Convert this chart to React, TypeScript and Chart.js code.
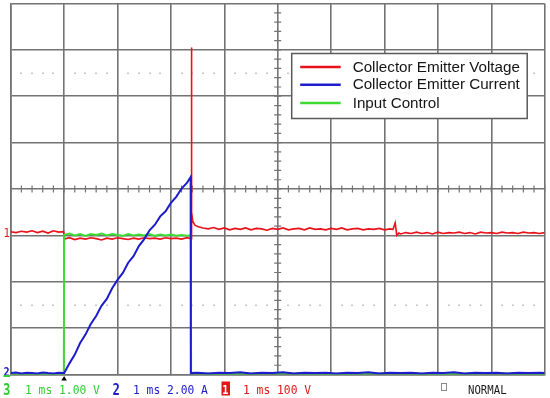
import React, { useEffect, useRef } from "react";
import { Chart, registerables } from "chart.js";

Chart.register(...registerables);

// ---- data (x: time in divisions of 1 ms, y: screen divisions) ----
const seriesLabels = ["Collector Emitter Voltage", "Collector Emitter Current", "Input Control"];
const seriesColors = ["#e8121a", "#1c1ccc", "#3ddc33"];

const voltageTrace: [number, number][] = [
  [0, 3.08], [0.1, 3.06], [0.2, 3.09], [0.3, 3.07], [0.4, 3.1], [0.5, 3.06], [0.6, 3.09], [0.7, 3.05], [0.8, 3.1], [0.9, 3.07], [0.99, 3.08],
  [1.01, 2.92], [1.1, 2.95], [1.2, 2.91], [1.3, 2.94], [1.4, 2.92], [1.5, 2.95], [1.6, 2.93], [1.7, 2.9], [1.8, 2.94], [1.9, 2.92],
  [2.0, 2.95], [2.1, 2.93], [2.2, 2.91], [2.3, 2.94], [2.4, 2.92], [2.5, 2.95], [2.6, 2.93], [2.7, 2.94], [2.8, 2.92], [2.9, 2.95],
  [3.0, 2.93], [3.1, 2.94], [3.2, 2.92], [3.3, 2.95], [3.38, 2.93],
  [3.385, 7.05], [3.39, 3.5], [3.41, 3.3], [3.45, 3.22], [3.5, 3.19], [3.6, 3.16],
  [3.7, 3.14], [3.8, 3.17], [3.9, 3.13], [4.0, 3.16], [4.1, 3.12], [4.2, 3.15], [4.3, 3.13], [4.4, 3.16], [4.5, 3.12], [4.6, 3.15],
  [4.7, 3.14], [4.8, 3.11], [4.9, 3.15], [5.0, 3.13], [5.1, 3.16], [5.2, 3.12], [5.3, 3.14], [5.4, 3.15], [5.5, 3.12], [5.6, 3.16],
  [5.7, 3.13], [5.8, 3.14], [5.9, 3.12], [6.0, 3.15], [6.1, 3.13], [6.2, 3.16], [6.3, 3.12], [6.4, 3.14], [6.5, 3.15], [6.6, 3.12],
  [6.7, 3.14], [6.8, 3.13], [6.9, 3.15], [7.0, 3.12], [7.1, 3.14], [7.16, 3.13],
  [7.2, 3.27], [7.23, 3.0], [7.27, 3.05], [7.3, 3.03],
  [7.4, 3.06], [7.5, 3.04], [7.6, 3.07], [7.7, 3.04], [7.8, 3.06], [7.9, 3.03], [8.0, 3.07], [8.1, 3.04], [8.2, 3.06], [8.3, 3.05],
  [8.4, 3.07], [8.5, 3.04], [8.6, 3.06], [8.7, 3.03], [8.8, 3.07], [8.9, 3.05], [9.0, 3.06], [9.1, 3.04], [9.2, 3.07], [9.3, 3.05],
  [9.4, 3.06], [9.5, 3.04], [9.6, 3.07], [9.7, 3.05], [9.8, 3.06], [9.9, 3.04], [10, 3.06],
];

const currentTrace: [number, number][] = [
  [0, 0.03], [0.1, 0.045], [0.2, 0.02], [0.3, 0.04], [0.4, 0.03], [0.5, 0.02], [0.6, 0.045], [0.7, 0.03], [0.8, 0.02], [0.9, 0.04], [1.0, 0.03],
  [1.1, 0.24], [1.2, 0.43], [1.3, 0.68], [1.4, 0.86], [1.5, 1.09], [1.6, 1.26], [1.7, 1.48], [1.8, 1.63], [1.9, 1.86],
  [2.0, 2.04], [2.1, 2.19], [2.2, 2.41], [2.3, 2.55], [2.4, 2.77], [2.5, 2.92], [2.6, 3.11], [2.7, 3.23], [2.8, 3.41], [2.9, 3.52],
  [3.0, 3.7], [3.1, 3.83], [3.2, 4.01], [3.3, 4.13], [3.37, 4.26],
  [3.373, 0.03], [3.5, 0.04], [3.7, 0.02], [3.9, 0.04], [4.1, 0.03], [4.3, 0.05], [4.5, 0.02], [4.7, 0.04], [4.9, 0.03],
  [5.1, 0.05], [5.3, 0.02], [5.5, 0.04], [5.7, 0.03], [5.9, 0.04], [6.1, 0.02], [6.3, 0.04], [6.5, 0.03], [6.7, 0.05], [6.9, 0.02],
  [7.1, 0.04], [7.3, 0.03], [7.5, 0.04], [7.7, 0.02], [7.9, 0.04], [8.1, 0.03], [8.3, 0.05], [8.5, 0.02], [8.7, 0.04], [8.9, 0.03],
  [9.1, 0.04], [9.3, 0.02], [9.5, 0.04], [9.7, 0.03], [9.9, 0.04], [10, 0.03],
];

const inputTrace: [number, number][] = [
  [0, 0.01], [0.3, 0.0], [0.6, 0.01], [0.995, 0.01],
  [1.0, 3.01], [1.1, 3.04], [1.2, 3.0], [1.3, 3.03], [1.4, 2.99], [1.5, 3.03], [1.6, 3.01], [1.7, 3.04], [1.8, 3.0], [1.9, 3.03],
  [2.0, 3.01], [2.1, 2.99], [2.2, 3.03], [2.3, 3.0], [2.4, 3.02], [2.5, 3.0], [2.6, 3.03], [2.7, 2.99], [2.8, 3.02], [2.9, 3.0],
  [3.0, 3.02], [3.1, 2.99], [3.2, 3.01], [3.3, 2.99], [3.375, 3.0],
  [3.378, 0.02], [4, 0.01], [5, 0.02], [6, 0.01], [7, 0.02], [8, 0.01], [9, 0.02], [10, 0.01],
];

const xDivisions = 10;
const yDivisions = 8;
const dottedLevels = [1.5, 6.5];
const triggerTime = 1.0;

const channel3Label = ["3", "1 ms 1.00 V"];
const channel2Label = ["2", "1 ms 2.00 A"];
const channel1Label = ["1", "1 ms 100 V"];
const modeLabel = "NORMAL";

const GRID = "#737373";

function monoText(ctx: CanvasRenderingContext2D, s: string, x: number, y: number, color: string, font: string, sx: number) {
  ctx.save();
  ctx.translate(x, y);
  ctx.scale(sx, 1);
  ctx.font = font;
  ctx.fillStyle = color;
  ctx.textBaseline = "alphabetic";
  ctx.textAlign = "left";
  ctx.fillText(s, 0, 0);
  ctx.restore();
}

const scopeDecor = {
  id: "scopeDecor",
  beforeDatasetsDraw(chart: any) {
    const { ctx, scales } = chart;
    const x = scales.x, y = scales.y;
    ctx.save();
    const cx = x.getPixelForValue(xDivisions / 2);
    const cy = y.getPixelForValue(yDivisions / 2);
    ctx.strokeStyle = GRID;
    ctx.lineWidth = 1.2;
    ctx.beginPath();
    for (let i = 0; i <= xDivisions * 5; i++) {
      const px = x.getPixelForValue(i * 0.2);
      ctx.moveTo(px, cy - 3.5);
      ctx.lineTo(px, cy + 3.5);
    }
    for (let j = 0; j <= yDivisions * 5; j++) {
      const py = y.getPixelForValue(j * 0.2);
      ctx.moveTo(cx - 3.5, py);
      ctx.lineTo(cx + 3.5, py);
    }
    ctx.stroke();
    ctx.fillStyle = "#8f8f8f";
    for (const lv of dottedLevels) {
      const py = y.getPixelForValue(lv);
      for (let i = 1; i < xDivisions * 5; i++) {
        if (i % 5 === 0) continue;
        const px = x.getPixelForValue(i * 0.2);
        ctx.fillRect(Math.round(px) - 0.5, Math.round(py) - 0.5, 1, 1.5);
      }
    }
    ctx.restore();
  },
  afterDatasetsDraw(chart: any) {
    const { ctx, chartArea: a } = chart;
    ctx.save();
    // legend box
    const right = a.right - 17.5;
    const top = a.top + 50;
    const w = 235.5, h = 65;
    const left = right - w;
    ctx.fillStyle = "#ffffff";
    ctx.fillRect(left, top, w, h);
    ctx.strokeStyle = "#5a5a5a";
    ctx.lineWidth = 1.5;
    ctx.strokeRect(left, top, w, h);
    const rows = [13.5, 31.2, 49.5];
    chart.data.datasets.forEach((ds: any, i: number) => {
      const ry = top + rows[i];
      ctx.strokeStyle = ds.borderColor;
      ctx.lineWidth = 2.6;
      ctx.beginPath();
      ctx.moveTo(left + 8.5, ry);
      ctx.lineTo(left + 49, ry);
      ctx.stroke();
      ctx.fillStyle = "#151515";
      ctx.font = "15.2px 'Liberation Sans', Arial, sans-serif";
      ctx.textBaseline = "middle";
      ctx.textAlign = "left";
      ctx.fillText(ds.label, left + 61, ry + 0.5);
    });
    ctx.restore();
  },
  afterDraw(chart: any) {
    const { ctx, scales, chartArea: a } = chart;
    const x = scales.x, y = scales.y;
    ctx.save();
    const mono = "13px 'DejaVu Sans Mono', monospace";
    const monoBold = "bold 15px 'DejaVu Sans Mono', monospace";
    const base = 393.5;
    const green = "#33cc33", blue = "#2020c8", red = "#e01818";
    // channel 3
    monoText(ctx, channel3Label[0], 3, base + 1, green, monoBold, 0.82);
    monoText(ctx, channel3Label[1], 25, base, green, mono, 0.87);
    // channel 2
    monoText(ctx, channel2Label[0], 112.5, base + 1, blue, monoBold, 0.82);
    monoText(ctx, channel2Label[1], 133, base, blue, mono, 0.87);
    // channel 1 boxed
    ctx.fillStyle = red;
    ctx.fillRect(221.5, 381.5, 8.5, 14);
    monoText(ctx, channel1Label[0], 222.3, base, "#ffffff", "bold 12px 'DejaVu Sans Mono', monospace", 0.85);
    monoText(ctx, channel1Label[1], 243, base, red, mono, 0.87);
    // mode
    ctx.strokeStyle = "#8a8a8a";
    ctx.lineWidth = 1;
    ctx.strokeRect(441.5, 383.5, 5, 7);
    monoText(ctx, modeLabel, 468, base, "#1a1a1a", "12px 'DejaVu Sans Mono', monospace", 0.89);
    // trigger marker
    const tx = x.getPixelForValue(triggerTime);
    ctx.fillStyle = "#000";
    ctx.beginPath();
    ctx.moveTo(tx, a.bottom + 1.5);
    ctx.lineTo(tx - 2.8, a.bottom + 6);
    ctx.lineTo(tx + 2.8, a.bottom + 6);
    ctx.closePath();
    ctx.fill();
    // ground markers
    const y1 = y.getPixelForValue(voltageTrace[0][1]);
    monoText(ctx, "1", 3.5, y1 + 5.5, red, "12px 'DejaVu Sans Mono', monospace", 0.9);
    const y2 = y.getPixelForValue(currentTrace[0][1]);
    monoText(ctx, "2", 3.5, y2 + 2.5, blue, "bold 12px 'DejaVu Sans Mono', monospace", 0.85);
    ctx.fillStyle = green;
    ctx.fillRect(3.5, a.bottom + 0.5, 6.5, 2);
    ctx.restore();
  },
};

export default function App() {
  const ref = useRef<HTMLCanvasElement>(null);
  useEffect(() => {
    const traces = [voltageTrace, currentTrace, inputTrace];
    const orders = [3, 1, 2];
    const widths = [1.6, 2, 2];
    const chart = new Chart(ref.current as HTMLCanvasElement, {
      type: "line",
      data: {
        datasets: traces.map((tr, i) => ({
          label: seriesLabels[i],
          data: tr.map(([t, v]) => ({ x: t, y: v })),
          borderColor: seriesColors[i],
          backgroundColor: seriesColors[i],
          borderWidth: widths[i],
          pointRadius: 0,
          tension: 0,
          fill: false,
          order: orders[i],
        })),
      },
      options: {
        responsive: false,
        animation: false,
        devicePixelRatio: 1,
        layout: { padding: { left: 10.7, right: 5.3, top: 3.5, bottom: 23.5 } },
        plugins: { legend: { display: false }, tooltip: { enabled: false } },
        scales: {
          x: {
            type: "linear",
            min: 0,
            max: xDivisions,
            ticks: { display: false, stepSize: 1 },
            grid: { color: GRID, lineWidth: 1.6, drawTicks: false },
            border: { display: true, color: GRID, width: 1.6 },
          },
          y: {
            type: "linear",
            min: 0,
            max: yDivisions,
            ticks: { display: false, stepSize: 1 },
            grid: { color: GRID, lineWidth: 1.6, drawTicks: false },
            border: { display: true, color: GRID, width: 1.6 },
          },
        },
      },
      plugins: [scopeDecor as any],
    });
    return () => chart.destroy();
  }, []);
  return (
    <div style={{ position: "fixed", left: 0, top: 0, width: 550, height: 398, background: "#ffffff" }}>
      <canvas ref={ref} width={550} height={398} style={{ display: "block", width: 550, height: 398 }} />
    </div>
  );
}
